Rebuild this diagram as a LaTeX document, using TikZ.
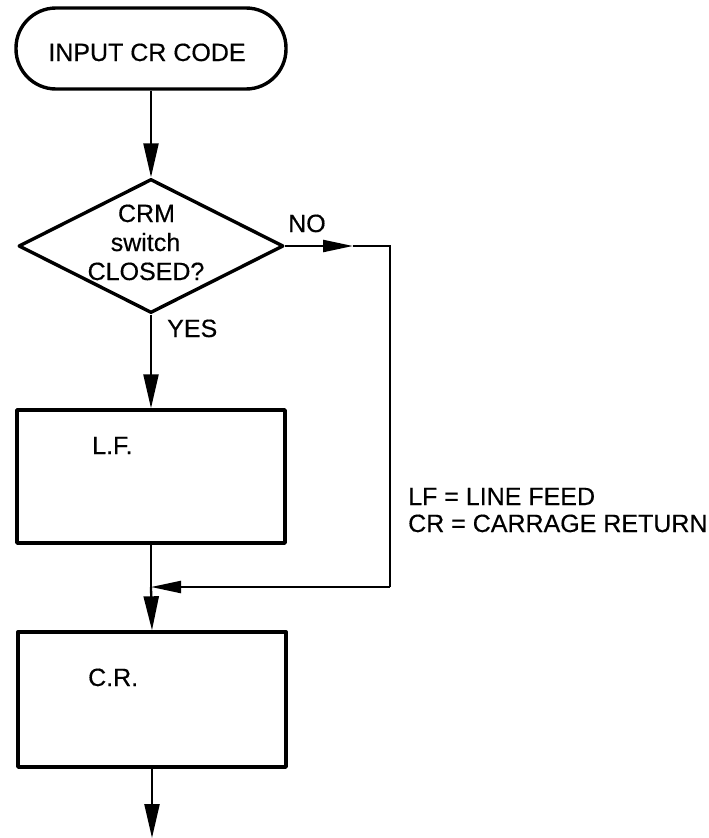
\documentclass[tikz,border=0pt]{standalone}
\usepackage{fontspec}
\setmainfont{Liberation Sans}
\newfontfamily\chartfont{Liberation Sans}[FakeBold=0.4]
\usetikzlibrary{arrows.meta,shapes.geometric}
\begin{document}
\begin{tikzpicture}[x=1pt,y=-1pt,
  outline/.style={draw=black,line width=3.4pt,line join=round,inner sep=0pt},
  conn/.style={draw=black,line width=2.3pt},
  vtip/.style={-{Triangle[length=34pt,width=15pt]}},
  htip/.style={-{Triangle[length=30pt,width=12pt]}},
  lbl/.style={font=\chartfont\fontsize{25}{28}\selectfont,inner sep=0pt,anchor=base},
  lblw/.style={lbl,anchor=base west}]
\useasboundingbox (0,0) rectangle (709,838);

% shapes
\node[outline,rounded corners=40pt,minimum width=270pt,minimum height=81pt] (term) at (151,48.5) {};
\node[outline,diamond,minimum width=265pt,minimum height=134pt] (dia) at (151,246) {};
\node[outline,rectangle,minimum width=268pt,minimum height=133pt] (lf) at (151,476.5) {};
\node[outline,rectangle,minimum width=268pt,minimum height=135pt] (cr) at (152,699.5) {};

% texts
\node[lbl] (tterm) at (147,61) {INPUT CR CODE};
\node[lbl] (tcrm) at (146.5,222) {CRM};
\node[lbl] (tsw) at (145.5,251) {switch};
\node[lbl] (tcl) at (146,280) {CLOSED?};
\node[lblw] (tno) at (288,232) {NO};
\node[lblw] (tyes) at (167,337) {YES};
\node[lblw] (tlf) at (92,454) {L.F.};
\node[lblw] (tcr) at (88,686) {C.R.};
\node[lblw] (key1) at (408,505) {LF = LINE FEED};
\node[lblw] (key2) at (408,532) {CR = CARRAGE RETURN};

% connector points
\coordinate (notip) at (353,246);
\coordinate (cno) at (390,246);
\coordinate (cret) at (390,587);
\coordinate (join) at (151,587);
\coordinate (out) at (152,838);

% connectors
\draw[conn,vtip] (term.south) -- (dia.north);
\draw[conn,vtip] (dia.south) -- (lf.north);
\draw[conn] (lf.south) -- (join);
\draw[conn,vtip] (join) -- (cr.north);
\draw[conn,htip] (dia.east) -- (notip);
\draw[conn] (notip) -- (cno) -- (cret);
\draw[conn,htip] (cret) -- (join);
\draw[conn,vtip] (cr.south) -- (out);
\end{tikzpicture}
\end{document}
